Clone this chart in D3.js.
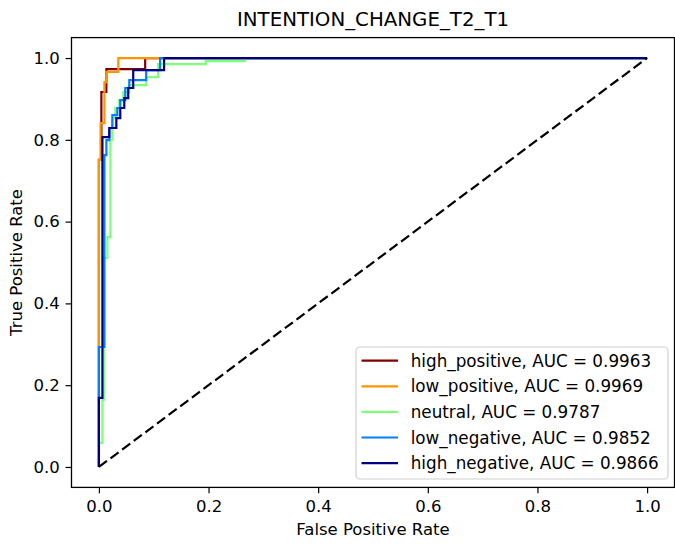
<!DOCTYPE html>
<html>
<head>
<meta charset="utf-8">
<script src="https://cdn.jsdelivr.net/npm/d3@7"></script>
<style>
  body { margin: 0; background: #fff; }
  svg { font-family: "DejaVu Sans", sans-serif; }
</style>
</head>
<body>
<div id="chart"></div>
<script>
// ROC curves, one per class (fpr / tpr)
var classNames = ["high_positive", "low_positive", "neutral", "low_negative", "high_negative"];
var aucValues = [0.9963, 0.9969, 0.9787, 0.9852, 0.9866];
var classColors = ["#800000", "#ff9400", "#7dff7a", "#0080ff", "#000080"];

var highPositiveFpr = [0, 0, 0.0045, 0.0045, 0.0136, 0.0136, 0.0844, 0.0844, 1];
var highPositiveTpr = [0, 0.751, 0.751, 0.917, 0.917, 0.973, 0.973, 1, 1];

var lowPositiveFpr = [0, 0, 0.003, 0.003, 0.010, 0.010, 0.0136, 0.0136, 0.0354, 0.0354, 1];
var lowPositiveTpr = [0, 0.751, 0.751, 0.841, 0.841, 0.941, 0.941, 0.966, 0.966, 1, 1];

var neutralFpr = [0, 0, 0.0064, 0.0064, 0.009, 0.009, 0.0154, 0.0154, 0.0209, 0.0209, 0.0245, 0.0245,
  0.030, 0.030, 0.0372, 0.0372, 0.0445, 0.0445, 0.0554, 0.0554, 0.0862, 0.0862, 0.108, 0.108,
  0.195, 0.195, 0.266, 0.266, 1];
var neutralTpr = [0, 0.0587, 0.0587, 0.1638, 0.1638, 0.511, 0.511, 0.5623, 0.5623, 0.7995, 0.7995, 0.8533,
  0.8533, 0.8778, 0.8778, 0.8973, 0.8973, 0.9169, 0.9169, 0.934, 0.934, 0.9535, 0.9535, 0.9853,
  0.9853, 0.9927, 0.9927, 1, 1];

var lowNegativeFpr = [0, 0, 0.010, 0.010, 0.0136, 0.0136, 0.019, 0.019, 0.0245, 0.0245, 0.0336, 0.0336,
  0.039, 0.039, 0.0481, 0.0481, 0.0554, 0.0554, 0.0862, 0.0862, 0.1116, 0.1116, 1];
var lowNegativeTpr = [0, 0.2934, 0.2934, 0.7628, 0.7628, 0.7995, 0.7995, 0.8289, 0.8289, 0.8606, 0.8606, 0.8778,
  0.8778, 0.8973, 0.8973, 0.9267, 0.9267, 0.9462, 0.9462, 0.9707, 0.9707, 1, 1];

var highNegativeFpr = [0, 0, 0.0064, 0.0064, 0.019, 0.019, 0.0318, 0.0318, 0.039, 0.039, 0.0463, 0.0463,
  0.0535, 0.0535, 0.0626, 0.0626, 0.1189, 0.1189, 1];
var highNegativeTpr = [0, 0.1687, 0.1687, 0.8068, 0.8068, 0.8289, 0.8289, 0.8533, 0.8533, 0.8778, 0.8778, 0.9022,
  0.9022, 0.9267, 0.9267, 0.9707, 0.9707, 1, 1];

var tickValues = [0, 0.2, 0.4, 0.6, 0.8, 1.0];

var svgWidth = 675;
var svgHeight = 546;

var margin = {
  top: 37.6,
  right: 0.5,
  bottom: 58.6,
  left: 71.5
};

var width = svgWidth - margin.left - margin.right;
var height = svgHeight - margin.top - margin.bottom;

var svg = d3.select("#chart")
  .append("svg")
  .attr("width", svgWidth)
  .attr("height", svgHeight);

var chartGroup = svg.append("g")
  .attr("transform", `translate(${margin.left}, ${margin.top})`);

// scales with matplotlib's 5% margins
var xScale = d3.scaleLinear().domain([-0.05, 1.05]).range([0, width]);
var yScale = d3.scaleLinear().domain([-0.05, 1.05]).range([height, 0]);

var curves = [
  { fpr: highPositiveFpr, tpr: highPositiveTpr },
  { fpr: lowPositiveFpr, tpr: lowPositiveTpr },
  { fpr: neutralFpr, tpr: neutralTpr },
  { fpr: lowNegativeFpr, tpr: lowNegativeTpr },
  { fpr: highNegativeFpr, tpr: highNegativeTpr }
];

var line = d3.line()
  .x(d => xScale(d[0]))
  .y(d => yScale(d[1]));

// one path per class
curves.forEach(function(c, i) {
  var pts = c.fpr.map((f, j) => [f, c.tpr[j]]);
  chartGroup.append("path")
    .datum(pts)
    .attr("d", line)
    .attr("fill", "none")
    .attr("stroke", classColors[i])
    .attr("stroke-width", 2.2)
    .attr("stroke-linejoin", "miter");
});

// chance diagonal
chartGroup.append("path")
  .datum([[0, 0], [1, 1]])
  .attr("d", line)
  .attr("fill", "none")
  .attr("stroke", "#000")
  .attr("stroke-width", 2.2)
  .attr("stroke-dasharray", "10,4.5");

// axes
var bottomAxis = d3.axisBottom(xScale)
  .tickValues(tickValues)
  .tickFormat(d3.format(".1f"))
  .tickSize(5.9)
  .tickPadding(5.9)
  .tickSizeOuter(0);

var leftAxis = d3.axisLeft(yScale)
  .tickValues(tickValues)
  .tickFormat(d3.format(".1f"))
  .tickSize(5.9)
  .tickPadding(5.9)
  .tickSizeOuter(0);

var xAxis = chartGroup.append("g")
  .attr("transform", `translate(0, ${height})`)
  .call(bottomAxis);

var yAxis = chartGroup.append("g")
  .call(leftAxis);

[xAxis, yAxis].forEach(function(ax) {
  ax.select(".domain").remove();
  ax.selectAll("line").attr("stroke", "#000").attr("stroke-width", 1.2);
  ax.selectAll("text")
    .attr("fill", "#000")
    .style("font-size", "16.5px")
    .style("font-family", "DejaVu Sans");
});
xAxis.selectAll("text").attr("dy", "0.75em");

// frame
chartGroup.append("rect")
  .attr("width", width)
  .attr("height", height)
  .attr("fill", "none")
  .attr("stroke", "#000")
  .attr("stroke-width", 1.3);

// title and axis labels
svg.append("text")
  .attr("x", margin.left + width / 2)
  .attr("y", 26)
  .attr("text-anchor", "middle")
  .style("font-size", "19.8px")
  .text("INTENTION_CHANGE_T2_T1");

svg.append("text")
  .attr("x", margin.left + width / 2)
  .attr("y", 535)
  .attr("text-anchor", "middle")
  .style("font-size", "16.5px")
  .text("False Positive Rate");

svg.append("text")
  .attr("transform", "rotate(-90)")
  .attr("x", -(margin.top + height / 2))
  .attr("y", 22)
  .attr("text-anchor", "middle")
  .style("font-size", "16.5px")
  .text("True Positive Rate");

// legend
var legend = svg.append("g")
  .attr("transform", "translate(356, 347)");

legend.append("rect")
  .attr("width", 312)
  .attr("height", 132)
  .attr("rx", 4)
  .attr("fill", "#fff")
  .attr("fill-opacity", 0.8)
  .attr("stroke", "#d0d0d0")
  .attr("stroke-width", 1.2);

classNames.forEach(function(name, i) {
  var ly = 13.7 + i * 25.6;
  legend.append("line")
    .attr("x1", 5.5)
    .attr("x2", 42)
    .attr("y1", ly)
    .attr("y2", ly)
    .attr("stroke", classColors[i])
    .attr("stroke-width", 2.2);
  legend.append("text")
    .attr("x", 54.7)
    .attr("y", ly)
    .attr("dy", "0.36em")
    .style("font-size", "16.8px")
    .text(`${name}, AUC = ${aucValues[i].toFixed(4)}`);
});
</script>
</body>
</html>
